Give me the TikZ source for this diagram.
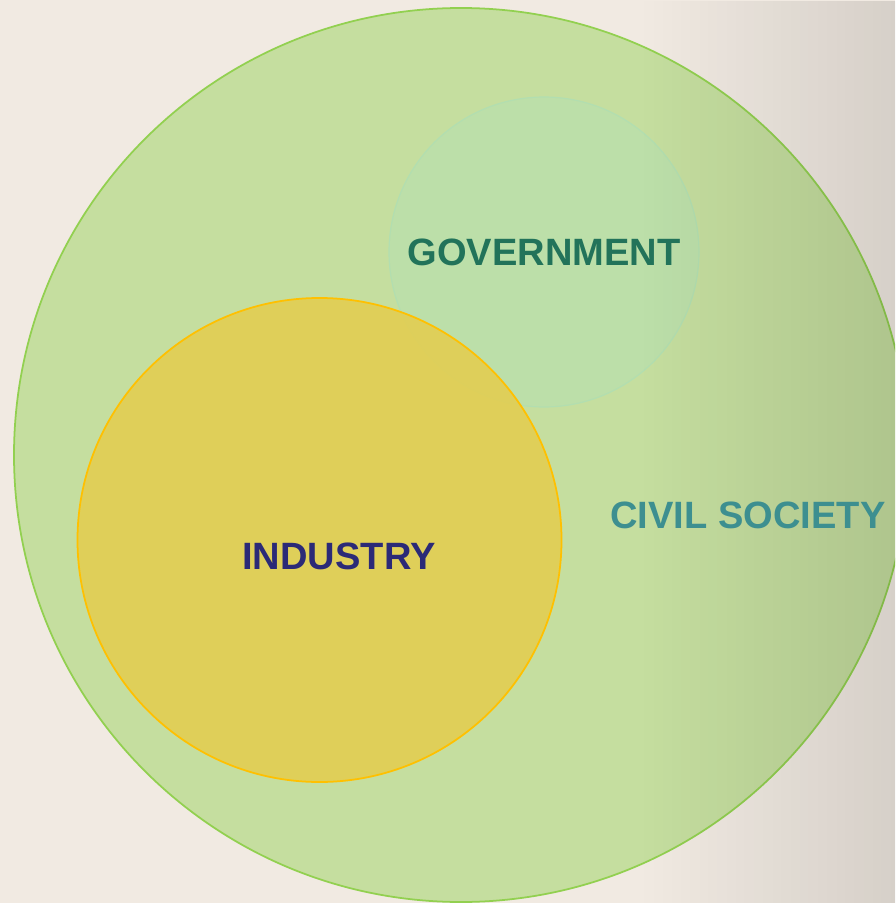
\documentclass[tikz,border=0pt]{standalone}
\usepackage{fontspec}
\setmainfont{Liberation Sans}
\usetikzlibrary{fadings}
\definecolor{paper}{RGB}{241,234,226}
\definecolor{civfill}{RGB}{186,220,143}
\definecolor{civline}{RGB}{146,208,80}
\definecolor{govfill}{RGB}{180,224,180}
\definecolor{govline}{RGB}{178,222,176}
\definecolor{indfill}{RGB}{226,206,82}
\definecolor{indline}{RGB}{255,192,0}
\definecolor{govtext}{RGB}{34,115,90}
\definecolor{indtext}{RGB}{43,42,119}
\definecolor{civtext}{RGB}{61,143,144}
\tikzset{
    sector/.style={circle, inner sep=0pt, minimum size=#1*0.03cm},
    civstyle/.style={sector=894, draw=civline, fill=civfill, fill opacity=0.8, line width=1.5pt},
    govstyle/.style={sector=310, draw=govline, fill=govfill, fill opacity=0.5, line width=1pt},
    indstyle/.style={sector=484, draw=indline, fill=indfill, fill opacity=0.9, line width=1.5pt},
    lbl/.style={font=\fontsize{32.5}{36}\selectfont\bfseries, inner sep=0pt}
}

\begin{document}
\begin{tikzpicture}[x=0.03cm, y=-0.03cm]
    % page and the darker strip on the right
    \fill[paper] (0,0) rectangle (895,903);
    \useasboundingbox (0,0) rectangle (895,903);
    \begin{scope}
      \clip (0,0) rectangle (895,903);
      \node[civstyle] (civ) at (461,455) {};
      \node[govstyle] (gov) at (544,252) {};
      \node[indstyle] (ind) at (319.5,540) {};
      \fill[black, fill opacity=0.13, path fading=west] (640,0) rectangle (940,903);
    \end{scope}
    % sector names
    \node[lbl, text=govtext] (govlbl) at (gov) {GOVERNMENT};
    \node[lbl, text=indtext] (indlbl) at (339,556) {INDUSTRY};
    \node[lbl, text=civtext] (civlbl) at (748,515) {CIVIL SOCIETY};
\end{tikzpicture}
\end{document}
